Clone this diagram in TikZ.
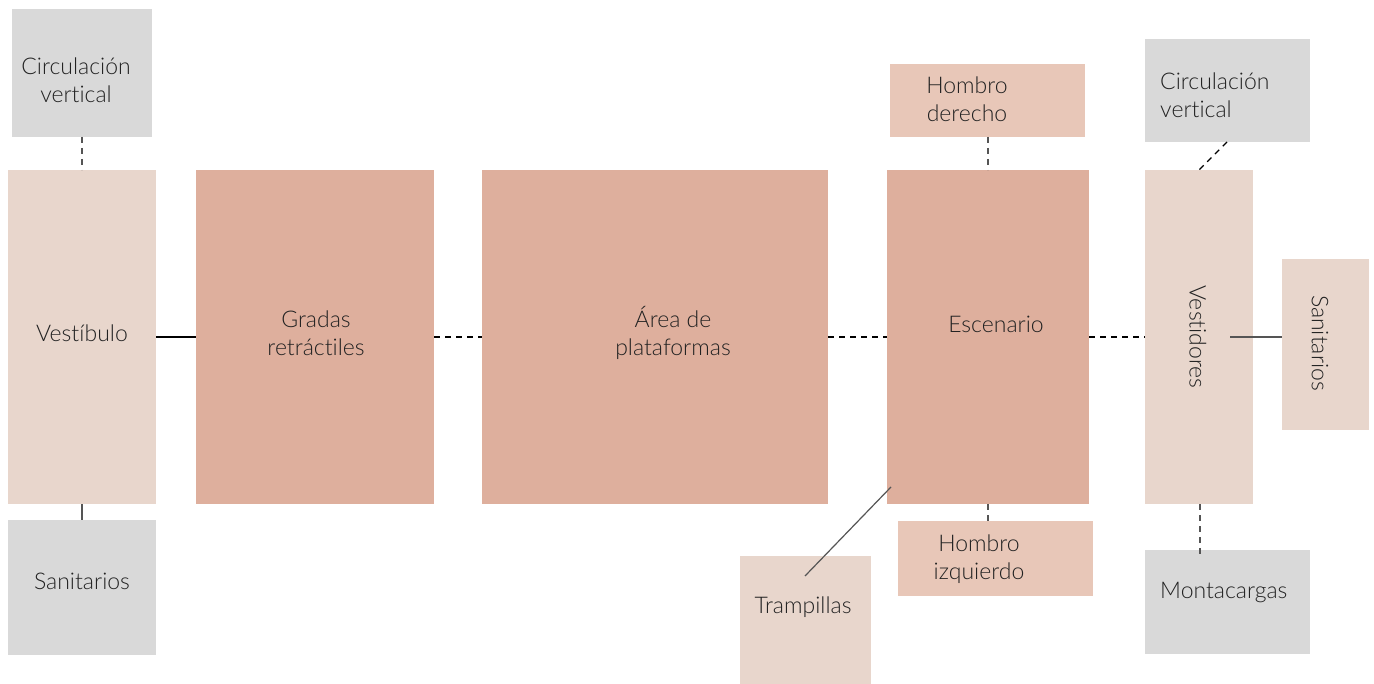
\documentclass[tikz,border=0pt]{standalone}
\usepackage{fontspec}
\setmainfont{Lato}[UprightFont={* Light},Ligatures={NoCommon}]
\definecolor{grayb}{HTML}{D9D9D9}
\definecolor{pinkl}{HTML}{E8D6CC}
\definecolor{salmon}{HTML}{DEAF9D}
\definecolor{hombro}{HTML}{E8C7B8}
\definecolor{txt}{HTML}{222222}
\definecolor{lgray}{HTML}{555555}
\newcommand{\bx}[6]{\node[box,fill=#6,minimum width={(#3-#1)*1pt},minimum height={(#4-#2)*1pt}] (#5) at ({(#1+#3)/2*1pt},{-(#2+#4)/2*1pt}) {};}
\begin{document}
\begin{tikzpicture}[x=1pt,y=-1pt,
  box/.style={rectangle,draw=none,inner sep=0pt,outer sep=0pt},
  lbl/.style={text=txt,font=\fontsize{23}{28}\selectfont,align=center,inner sep=0pt},
  lbll/.style={text=txt,font=\fontsize{23}{28}\selectfont,align=left,inner sep=0pt},
  solidc/.style={draw=black,line width=1.2pt},
  grayc/.style={draw=lgray,line width=1.2pt},
  dashc/.style={draw=black,line width=1.2pt,dash pattern=on 6pt off 5pt},
  dashg/.style={draw=lgray,line width=1.2pt,dash pattern=on 6pt off 5pt}]
\useasboundingbox (0,0) rectangle (1374,684);
\bx{12}{9}{152}{137}{cvl}{grayb}
\bx{8}{170}{156}{504}{vest}{pinkl}
\bx{8}{520}{156}{655}{sanl}{grayb}
\bx{196}{170}{434}{504}{grad}{salmon}
\bx{482}{170}{828}{504}{area}{salmon}
\bx{887}{170}{1089}{504}{esc}{salmon}
\bx{890}{64}{1085}{137}{hder}{hombro}
\bx{898}{521}{1093}{596}{hizq}{hombro}
\bx{740}{556}{871}{684}{tramp}{pinkl}
\bx{1145}{170}{1253}{504}{vestid}{pinkl}
\bx{1145}{39}{1310}{142}{cvr}{grayb}
\bx{1282}{259}{1369}{430}{sanr}{pinkl}
\bx{1145}{550}{1310}{654}{monta}{grayb}
% labels
\node[lbl] (tcvl) at (76,80) {Circulación\\vertical};
\node[lbl] (tvest) at (82,333) {Vestíbulo};
\node[lbl] (tsanl) at (82,581) {Sanitarios};
\node[lbl] (tgrad) at (316,333) {Gradas\\retráctiles};
\node[lbl] (tarea) at (673,333) {Área de\\plataformas};
\node[lbl] (tesc) at (996,324) {Escenario};
\node[lbl] (thder) at (967,99) {Hombro\\derecho};
\node[lbl] (thizq) at (979,559) {Hombro\\izquierdo};
\node[lbl] (ttramp) at (803,607) {Trampillas};
\node[lbl,rotate=-90] (tvestid) at (1198,337) {Vestidores};
\node[lbll,anchor=west] (tcvr) at (1160,95) {Circulación\\vertical};
\node[lbl,rotate=-90] (tsanr) at (1320,343) {Sanitarios};
\node[lbll,anchor=west] (tmonta) at (1160,592) {Montacargas};
% connectors
\coordinate (vestL) at (156,337);
\coordinate (gradL) at (196,337);
\draw[solidc] (vest.east |- vestL) -- (grad.west |- gradL);
\draw[dashc] (grad.east |- vestL) -- (area.west |- vestL);
\draw[dashc] (area.east |- vestL) -- (esc.west |- vestL);
\draw[dashc] (esc.east |- vestL) -- (vestid.west |- vestL);
\draw[dashg] (cvl.south) -- (vest.north);
\draw[grayc] (vest.south) -- (sanl.north);
\coordinate (hx) at (988,0);
\draw[dashg] (hder.south -| hx) -- (esc.north -| hx);
\draw[dashg] (esc.south -| hx) -- (hizq.north -| hx);
\coordinate (trA) at (805,576);
\coordinate (trB) at (891,487);
\draw[grayc] (trA) -- (trB);
\coordinate (cvA) at (1227,142);
\coordinate (cvB) at (1199,170);
\draw[dashc] (cvA) -- (cvB);
\coordinate (srA) at (1230,337);
\draw[grayc] (srA) -- (sanr.west |- srA);
\coordinate (mx) at (1200,0);
\draw[dashg] (vestid.south -| mx) -- ([yshift=-5pt]monta.north -| mx);
\end{tikzpicture}
\end{document}
